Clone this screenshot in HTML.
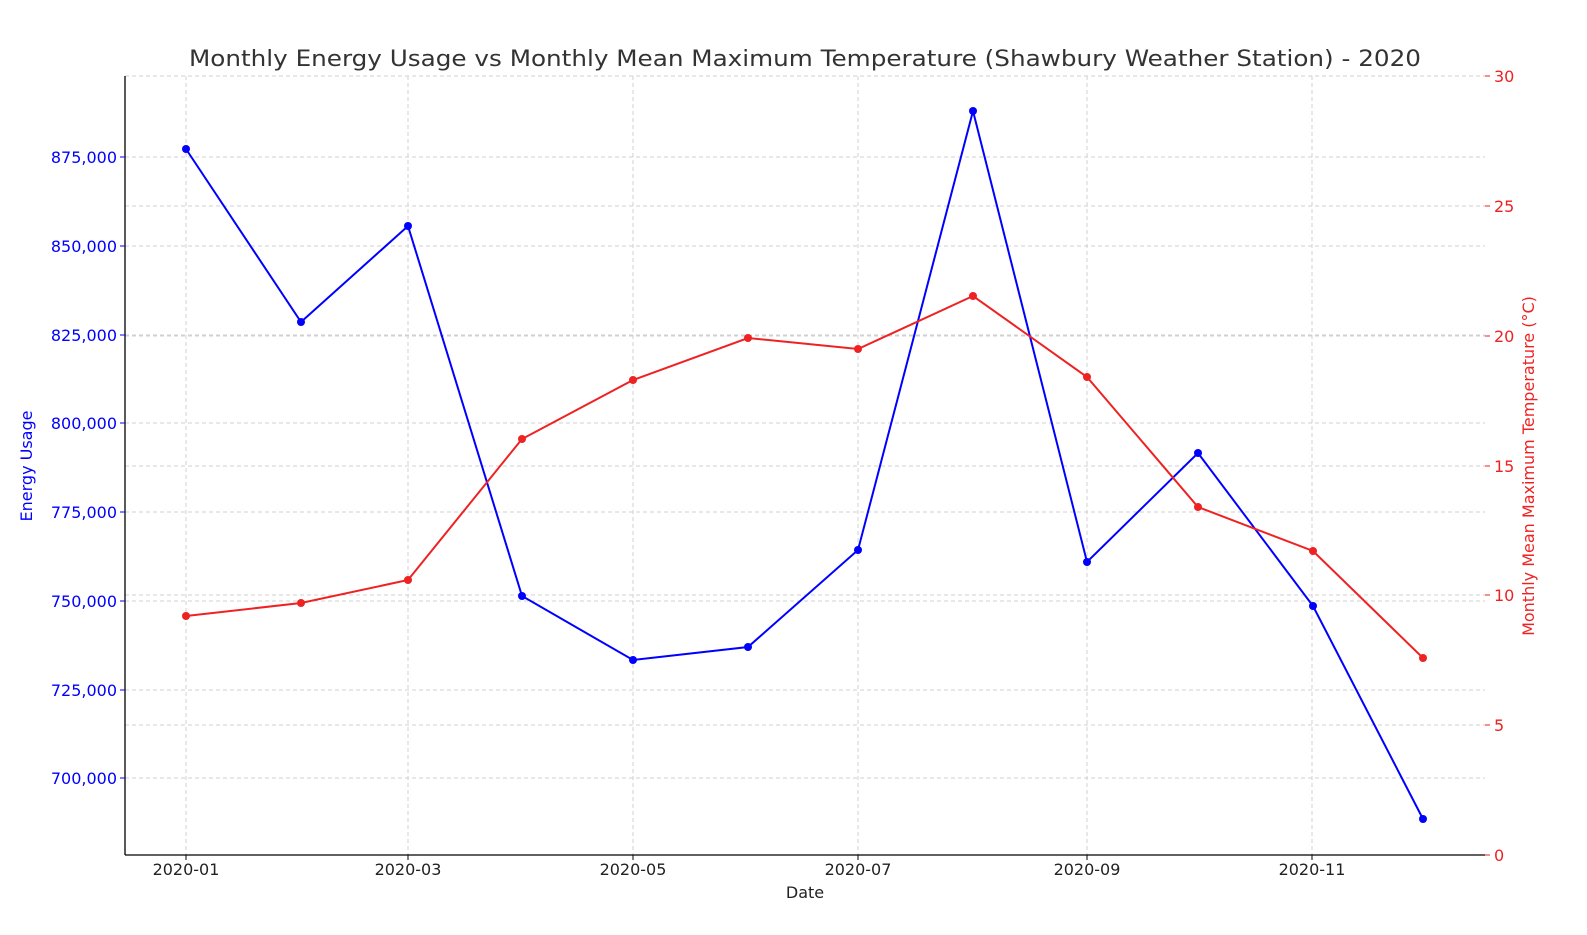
<!DOCTYPE html>
<html><head><meta charset="utf-8"><style>body{margin:0;background:#fff}svg{display:block}text{font-family:"DejaVu Sans","Liberation Sans",sans-serif}</style></head>
<body>
<svg width="1587" height="935" viewBox="0 0 1587 935" xmlns="http://www.w3.org/2000/svg">
<rect width="1587" height="935" fill="#fff"/>
<g stroke="#d0d0d0" stroke-width="1" stroke-dasharray="4,3">
<line x1="186" y1="76" x2="186" y2="855"/><line x1="408" y1="76" x2="408" y2="855"/><line x1="633" y1="76" x2="633" y2="855"/><line x1="858" y1="76" x2="858" y2="855"/><line x1="1087" y1="76" x2="1087" y2="855"/><line x1="1312" y1="76" x2="1312" y2="855"/>
<line x1="125" y1="157" x2="1485" y2="157"/><line x1="125" y1="246" x2="1485" y2="246"/><line x1="125" y1="335" x2="1485" y2="335"/><line x1="125" y1="423" x2="1485" y2="423"/><line x1="125" y1="512" x2="1485" y2="512"/><line x1="125" y1="601" x2="1485" y2="601"/><line x1="125" y1="690" x2="1485" y2="690"/><line x1="125" y1="778" x2="1485" y2="778"/>
<line x1="125" y1="76" x2="1485" y2="76"/><line x1="125" y1="206" x2="1485" y2="206"/><line x1="125" y1="336" x2="1485" y2="336"/><line x1="125" y1="466" x2="1485" y2="466"/><line x1="125" y1="595" x2="1485" y2="595"/><line x1="125" y1="725" x2="1485" y2="725"/>
</g>
<g stroke="#000" stroke-width="1.3" fill="none">
<line x1="125" y1="76" x2="125" y2="855"/><line x1="125" y1="855" x2="1485" y2="855"/>
</g>
<g stroke="#000"><line x1="186" y1="855" x2="186" y2="860"/><line x1="408" y1="855" x2="408" y2="860"/><line x1="633" y1="855" x2="633" y2="860"/><line x1="858" y1="855" x2="858" y2="860"/><line x1="1087" y1="855" x2="1087" y2="860"/><line x1="1312" y1="855" x2="1312" y2="860"/></g>
<g stroke="#0000ff"><line x1="120" y1="157" x2="125" y2="157"/><line x1="120" y1="246" x2="125" y2="246"/><line x1="120" y1="335" x2="125" y2="335"/><line x1="120" y1="423" x2="125" y2="423"/><line x1="120" y1="512" x2="125" y2="512"/><line x1="120" y1="601" x2="125" y2="601"/><line x1="120" y1="690" x2="125" y2="690"/><line x1="120" y1="778" x2="125" y2="778"/></g>
<g stroke="#ee2222"><line x1="1485" y1="76" x2="1490" y2="76"/><line x1="1485" y1="206" x2="1490" y2="206"/><line x1="1485" y1="336" x2="1490" y2="336"/><line x1="1485" y1="466" x2="1490" y2="466"/><line x1="1485" y1="595" x2="1490" y2="595"/><line x1="1485" y1="725" x2="1490" y2="725"/><line x1="1485" y1="855" x2="1490" y2="855"/></g>
<g font-size="16" fill="#222" text-anchor="middle">
<text x="186" y="875">2020-01</text><text x="408" y="875">2020-03</text><text x="633" y="875">2020-05</text><text x="858" y="875">2020-07</text><text x="1087" y="875">2020-09</text><text x="1312" y="875">2020-11</text>
<text x="805" y="898">Date</text>
</g>
<g font-size="16" fill="#0000ff" text-anchor="end">
<text x="117" y="163">875,000</text><text x="117" y="252">850,000</text><text x="117" y="341">825,000</text><text x="117" y="429">800,000</text><text x="117" y="518">775,000</text><text x="117" y="607">750,000</text><text x="117" y="696">725,000</text><text x="117" y="784">700,000</text>
</g>
<g font-size="16" fill="#ee2222">
<text x="1494" y="82">30</text><text x="1494" y="212">25</text><text x="1494" y="342">20</text><text x="1494" y="472">15</text><text x="1494" y="601">10</text><text x="1494" y="731">5</text><text x="1494" y="861">0</text>
</g>
<text transform="translate(32,466) rotate(-90)" font-size="16" fill="#0000ff" text-anchor="middle">Energy Usage</text>
<text transform="translate(1534,466) rotate(-90)" font-size="16" fill="#ee2222" text-anchor="middle">Monthly Mean Maximum Temperature (°C)</text>
<text x="805" y="66" font-size="22" fill="#333" text-anchor="middle" textLength="1232" lengthAdjust="spacingAndGlyphs">Monthly Energy Usage vs Monthly Mean Maximum Temperature (Shawbury Weather Station) - 2020</text>
<polyline fill="none" stroke="#0000ff" stroke-width="2" points="186,149 301,322 408,226 522,596 633,660 748,647 858,550 973,111 1087,562 1198,453 1313,606 1423,819"/>
<g fill="#0000ff"><circle cx="186" cy="149" r="4"/><circle cx="301" cy="322" r="4"/><circle cx="408" cy="226" r="4"/><circle cx="522" cy="596" r="4"/><circle cx="633" cy="660" r="4"/><circle cx="748" cy="647" r="4"/><circle cx="858" cy="550" r="4"/><circle cx="973" cy="111" r="4"/><circle cx="1087" cy="562" r="4"/><circle cx="1198" cy="453" r="4"/><circle cx="1313" cy="606" r="4"/><circle cx="1423" cy="819" r="4"/></g>
<polyline fill="none" stroke="#ee2222" stroke-width="2" points="186,616 301,603 408,580 522,439 633,380 748,338 858,349 973,296 1087,377 1198,507 1313,551 1423,658"/>
<g fill="#ee2222"><circle cx="186" cy="616" r="4"/><circle cx="301" cy="603" r="4"/><circle cx="408" cy="580" r="4"/><circle cx="522" cy="439" r="4"/><circle cx="633" cy="380" r="4"/><circle cx="748" cy="338" r="4"/><circle cx="858" cy="349" r="4"/><circle cx="973" cy="296" r="4"/><circle cx="1087" cy="377" r="4"/><circle cx="1198" cy="507" r="4"/><circle cx="1313" cy="551" r="4"/><circle cx="1423" cy="658" r="4"/></g>
</svg>
</body></html>
